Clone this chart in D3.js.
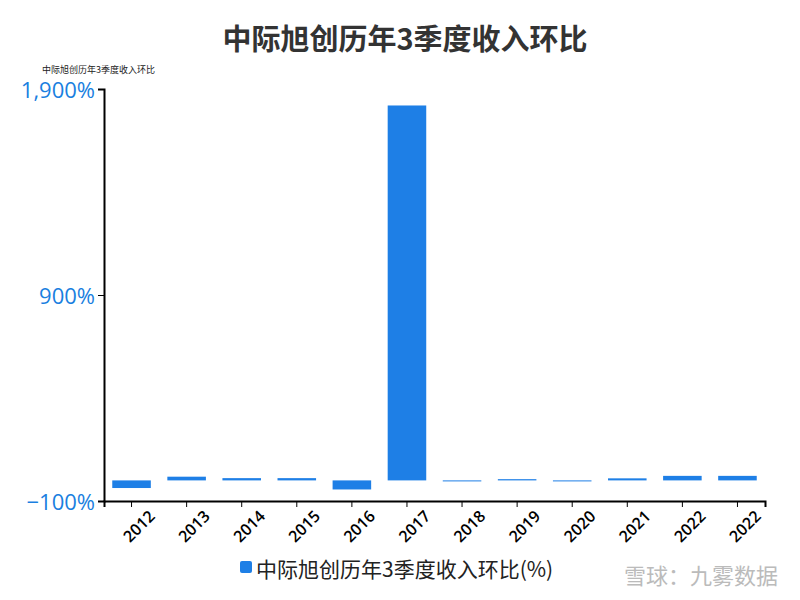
<!DOCTYPE html><html><head><meta charset="utf-8"><script src="https://d3js.org/d3.v7.min.js"></script>
<style>body{margin:0;background:#fff}</style></head><body><script>
const years=["2012","2013","2014","2015","2016","2017","2018","2019","2020","2021","2022","2022"];
const values=[-37,18,11,11,-44,1820,-3,6,-1,10,22,22];
const yTicks=[-100,900,1900];
const W=800,H=600,m={l:104,r:35,t:89,b:99};
const svg=d3.select("body").append("svg").attr("width",W).attr("height",H).style("font-family","'Noto Sans CJK SC','Noto Sans',sans-serif");
const x=d3.scaleBand().domain(d3.range(years.length)).range([m.l,W-m.r]).paddingInner(0.3).paddingOuter(0.15);
const y=d3.scaleLinear().domain([-100,1900]).range([H-m.b,m.t]);
svg.append("text").attr("x",405).attr("y",50).attr("text-anchor","middle").attr("font-size",29).attr("font-weight","bold").attr("fill","#333").text("中际旭创历年3季度收入环比");
svg.append("text").attr("x",42).attr("y",73).attr("font-size",9).attr("fill","#222").text("中际旭创历年3季度收入环比");
svg.selectAll("rect.b").data(values).join("rect").attr("x",(d,i)=>x(i)).attr("width",x.bandwidth())
 .attr("y",d=>y(Math.max(0,d))).attr("height",d=>Math.max(1,Math.abs(y(d)-y(0)))).attr("fill","#1e7fe6");
const ya=svg.append("g").attr("transform",`translate(${m.l},0)`).call(d3.axisLeft(y).tickValues(yTicks).tickFormat(d=>d3.format(",")(d)+"%").tickSize(6));
ya.selectAll("text").attr("font-size",22).attr("dy","0.4em").attr("fill","#1a7fe0").attr("font-family","'Open Sans',sans-serif");
ya.select(".domain").attr("stroke","#000").attr("stroke-width",2);
const xa=svg.append("g").attr("transform",`translate(0,${H-m.b})`).call(d3.axisBottom(x).tickFormat(i=>years[i]).tickSize(6));
xa.select(".domain").attr("stroke","#000").attr("stroke-width",2);
xa.selectAll("text").attr("font-size",16).attr("font-weight","600").attr("fill","#000").attr("text-anchor","end").attr("transform","translate(10,2) rotate(-45)").attr("font-family","'Open Sans',sans-serif");
const lg=svg.append("g");
lg.append("rect").attr("x",240).attr("y",561).attr("width",12).attr("height",12).attr("rx",2).attr("fill","#1e7fe6");
lg.append("text").attr("x",256).attr("y",577).attr("font-size",21).attr("fill","#222").text("中际旭创历年3季度收入环比(%)");
svg.append("text").attr("x",778).attr("y",584).attr("text-anchor","end").attr("font-size",22).attr("fill","#bbb").text("雪球：九雾数据");
</script></body></html>
